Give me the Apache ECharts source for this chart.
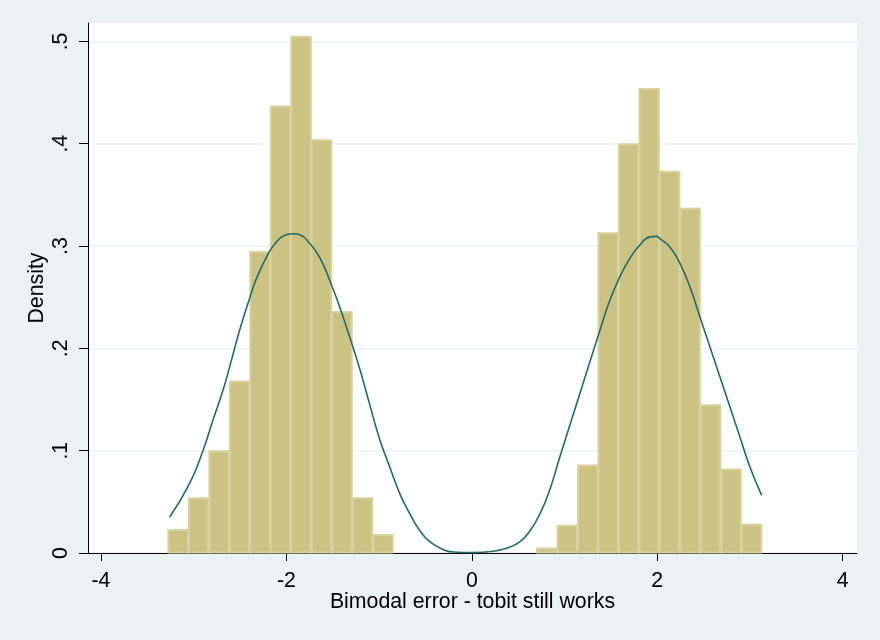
<!DOCTYPE html>
<html>
<head>
<meta charset="utf-8">
<style>
  html, body { margin: 0; padding: 0; background: #EAF2F3; }
  #chart { width: 880px; height: 640px; }
</style>
<script src="https://cdn.jsdelivr.net/npm/echarts@6/dist/echarts.min.js"></script>
</head>
<body>
<div id="chart"></div>
<script>
// Histogram bins (evenly spaced)
const binStart = -3.278;
const binWidth = 0.2209;
const binDensity = [
  0.023, 0.054, 0.100, 0.168, 0.295, 0.437, 0.505, 0.404, 0.236, 0.054, 0.018,
  0, 0, 0, 0, 0, 0, 0,
  0.005, 0.027, 0.086, 0.313, 0.400, 0.454, 0.373, 0.337, 0.145, 0.082, 0.028
];

// Kernel density curve points
const curveX = [
  -3.26, -3.044, -2.90, -2.792, -2.684, -2.594, -2.504, -2.414, -2.324, -2.216,
  -2.108, -2.0, -1.93, -1.856, -1.748, -1.641, -1.533, -1.425, -1.317, -1.209,
  -1.101, -0.993, -0.885, -0.777, -0.669, -0.561, -0.453, -0.30, -0.20, 0.014,
  0.23, 0.40, 0.52, 0.63, 0.734, 0.842, 0.95, 1.058, 1.166, 1.274, 1.382,
  1.489, 1.597, 1.705, 1.813, 1.921, 1.993, 2.029, 2.137, 2.245, 2.353,
  2.461, 2.569, 2.677, 2.785, 2.892, 3.0, 3.127
];
const curveY = [
  0.035, 0.068, 0.100, 0.130, 0.159, 0.188, 0.218, 0.244, 0.268, 0.289,
  0.304, 0.311, 0.312, 0.311, 0.3025, 0.289, 0.2666, 0.2405, 0.211, 0.180,
  0.145, 0.111, 0.084, 0.058, 0.0385, 0.022, 0.011, 0.003, 0.001, 0.0004,
  0.0017, 0.0055, 0.011, 0.022, 0.038, 0.062, 0.094, 0.125, 0.156, 0.187, 0.2177,
  0.247, 0.270, 0.288, 0.301, 0.309, 0.3095, 0.3073, 0.299, 0.283, 0.260,
  0.2307, 0.2014, 0.172, 0.1427, 0.1134, 0.0841, 0.0564
];

const xTicks = [-4, -2, 0, 2, 4];
const yTicks = [0, 0.1, 0.2, 0.3, 0.4, 0.5];

const xTitle = 'Bimodal error - tobit still works';
const yTitle = 'Density';

const histData = binDensity.map((d, i) => [binStart + i * binWidth, binStart + (i + 1) * binWidth, d]);
const curveData = curveX.map((x, i) => [x, curveY[i]]);

const FONT = '"Liberation Sans", Arial, sans-serif';
const FS = 21.3;

const chart = echarts.init(document.getElementById('chart'), null, { renderer: 'canvas' });
chart.setOption({
  backgroundColor: '#EAF2F3',
  animation: false,
  grid: {
    left: 88, right: 23, top: 23, bottom: 87,
    show: true, backgroundColor: '#FFFFFF', borderWidth: 0
  },
  xAxis: {
    type: 'value',
    min: -4.14, max: 4.155,
    name: xTitle,
    nameLocation: 'middle',
    nameGap: 39,
    nameMoveOverlap: false,
    nameTextStyle: { fontFamily: FONT, fontSize: FS, color: '#000' },
    axisLine: { show: true, onZero: false, lineStyle: { color: '#000', width: 1 } },
    axisTick: { show: true, length: 8, inside: false, customValues: xTicks, lineStyle: { color: '#000' } },
    axisLabel: {
      customValues: xTicks, margin: 18,
      fontFamily: FONT, fontSize: FS, color: '#000',
      formatter: v => String(v)
    },
    splitLine: { show: false }
  },
  yAxis: {
    type: 'value',
    min: 0, max: 0.518,
    name: yTitle,
    nameLocation: 'middle',
    nameGap: 40,
    nameRotate: 90,
    nameMoveOverlap: false,
    nameTextStyle: { fontFamily: FONT, fontSize: FS, color: '#000' },
    axisLine: { show: true, onZero: false, lineStyle: { color: '#000', width: 1 } },
    axisTick: { show: true, length: 9, inside: false, customValues: yTicks, lineStyle: { color: '#000' } },
    axisLabel: {
      customValues: yTicks, margin: 16.5, rotate: 90,
      fontFamily: FONT, fontSize: FS, color: '#000',
      formatter: v => (v === 0 ? '0' : String(Math.round(v * 10) / 10).replace(/^0/, ''))
    },
    splitLine: { show: true, lineStyle: { color: '#EAF0F2', width: 1.5 } }
  },
  series: [
    {
      type: 'custom',
      coordinateSystem: 'cartesian2d',
      encode: { x: [0, 1], y: 2 },
      data: histData,
      renderItem: function (params, api) {
        const v = api.value(2);
        if (!v) return null;
        const p0 = api.coord([api.value(0), v]);
        const p1 = api.coord([api.value(1), 0]);
        return {
          type: 'rect',
          shape: { x: p0[0] + 0.5, y: p0[1] + 0.5, width: p1[0] - p0[0] - 1, height: p1[1] - p0[1] - 1 },
          style: { fill: '#CBC283', stroke: '#D9D29F', lineWidth: 2 }
        };
      },
      z: 2
    },
    {
      type: 'line',
      data: curveData,
      smooth: 0.5,
      showSymbol: false,
      symbol: 'none',
      lineStyle: { color: '#236B65', width: 1.6 },
      z: 3
    }
  ]
});
</script>
</body>
</html>
